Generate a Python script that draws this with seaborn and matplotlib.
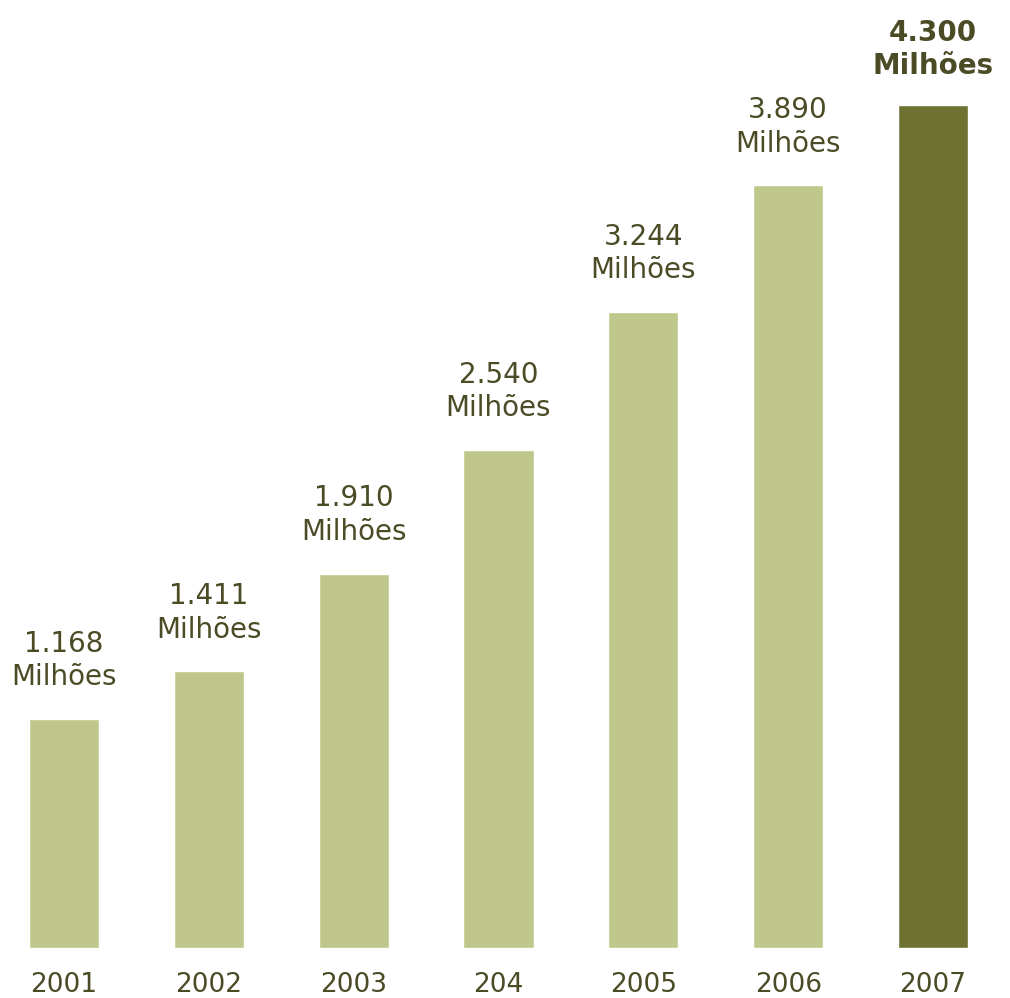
import matplotlib
matplotlib.use("Agg")
import matplotlib.pyplot as plt
import seaborn as sns
import pandas as pd

# Subscriber totals (millions) per year
years = ["2001", "2002", "2003", "204", "2005", "2006", "2007"]
values = [1.168, 1.411, 1.910, 2.540, 3.244, 3.890, 4.300]
value_labels = ["1.168", "1.411", "1.910", "2.540", "3.244", "3.890", "4.300"]
unit = "Milhões"

light = "#BFC88A"
dark = "#6E7332"
text_color = "#4B4B26"

sns.set_theme(style="white")
plt.rcParams["font.family"] = ["DejaVu Sans"]

df = pd.DataFrame({"year": years, "value": values})
colors = [light] * (len(years) - 1) + [dark]

fig = plt.figure(figsize=(10.10, 9.98), dpi=100)
ax = fig.add_axes([0.0, 0.05, 1.0, 0.95])

sns.barplot(data=df, x="year", y="value", hue="year", palette=colors,
            legend=False, width=0.485, saturation=1, ax=ax)

ax.set_xlim(-0.442, 6.532)
ax.set_ylim(0, 4.836)

for i, (v, lab) in enumerate(zip(values, value_labels)):
    last = i == len(values) - 1
    ax.annotate(f"{lab}\n{unit}", xy=(i, v), xytext=(0, 20 if not last else 18),
                textcoords="offset points", ha="center", va="bottom",
                fontsize=20, color=text_color, linespacing=1.25,
                fontweight="bold" if last else "normal")

for s in ax.spines.values():
    s.set_visible(False)
ax.set_yticks([])
ax.set_xlabel("")
ax.set_ylabel("")
ax.tick_params(axis="x", length=0, pad=17)
for t in ax.get_xticklabels():
    t.set_fontsize(19)
    t.set_color(text_color)

fig.savefig("out.png", dpi=100, facecolor="white")
